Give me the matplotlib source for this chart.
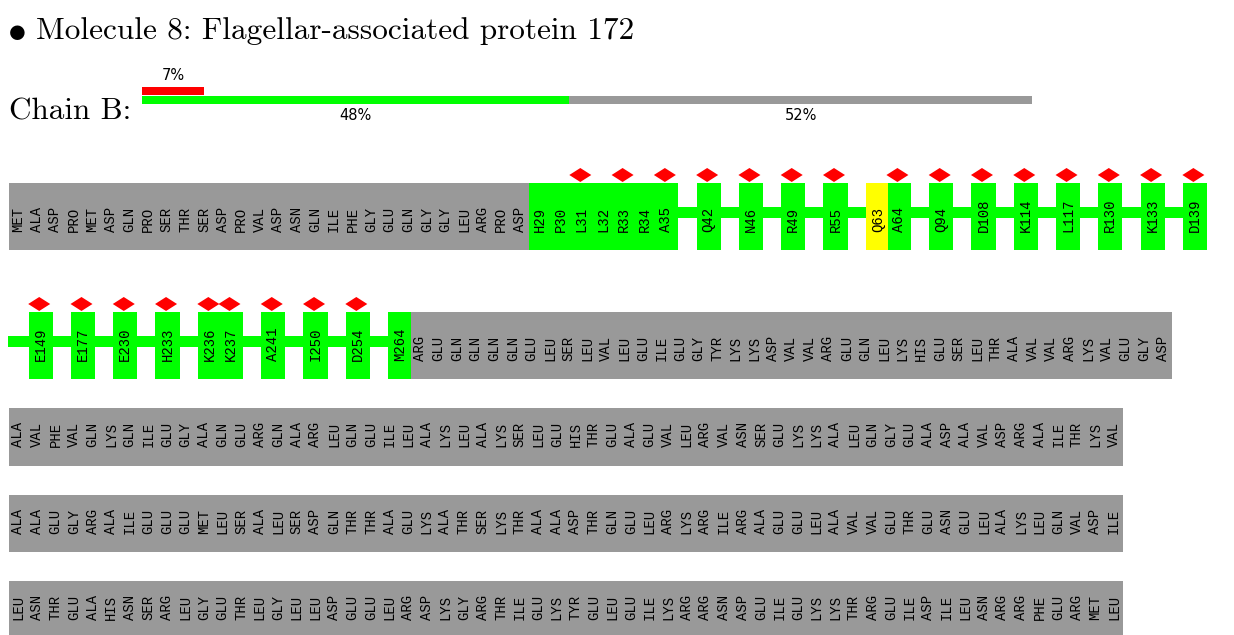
import re
import matplotlib
matplotlib.use("Agg")
import matplotlib.pyplot as plt
from matplotlib.patches import Rectangle, Polygon

# ---------------- data ----------------
title = "Molecule 8: Flagellar-associated protein 172"
chain_label = "Chain B:"

outlier_frac = 0.07
outlier_label = "7%"
quality_fracs = [0.48, 0.52]
quality_labels = ["48%", "52%"]

# unmodelled N-terminal residues 1-28
seq_head = ["MET", "ALA", "ASP", "PRO", "MET", "ASP", "GLN", "PRO", "SER", "THR",
            "SER", "ASP", "PRO", "VAL", "ASP", "ASN", "GLN", "ILE", "PHE", "GLY",
            "GLU", "GLN", "GLY", "GLY", "LEU", "ARG", "PRO", "ASP"]

# modelled residues shown individually
modelled_shown = ["H29", "P30", "L31", "L32", "R33", "R34", "A35", "Q42", "N46", "R49",
                  "R55", "Q63", "A64", "Q94", "D108", "K114", "L117", "R130", "K133",
                  "D139", "E149", "E177", "E230", "H233", "K236", "K237", "A241",
                  "I250", "D254", "M264"]

outlier_res = [31, 33, 35, 42, 46, 49, 55, 64, 94, 108, 114, 117, 130, 133, 139,
               149, 177, 230, 233, 236, 237, 241, 250, 254]
yellow_res = [63]

# unmodelled C-terminal residues 265-485
seq_tail = [
    "ARG", "GLU", "GLN", "GLN", "GLN", "GLN", "GLU", "LEU", "SER", "LEU", "VAL",
    "LEU", "GLU", "ILE", "GLU", "GLY", "TYR", "LYS", "LYS", "ASP", "VAL", "VAL",
    "ARG", "GLU", "GLN", "LEU", "LYS", "HIS", "GLU", "SER", "LEU", "THR", "ALA",
    "VAL", "VAL", "ARG", "LYS", "VAL", "GLU", "GLY", "ASP",
    "ALA", "VAL", "PHE", "VAL", "GLN", "LYS", "GLN", "ILE", "GLU", "GLY",
    "ALA", "GLN", "GLU", "ARG", "GLN", "ALA", "ARG", "LEU", "GLN", "GLU",
    "ILE", "LEU", "ALA", "LYS", "LEU", "ALA", "LYS", "SER", "LEU", "GLU",
    "HIS", "THR", "GLU", "ALA", "GLU", "VAL", "LEU", "ARG", "VAL", "ASN",
    "SER", "GLU", "LYS", "LYS", "ALA", "LEU", "GLN", "GLY", "GLU", "ALA",
    "ASP", "ALA", "VAL", "ASP", "ARG", "ALA", "ILE", "THR", "LYS", "VAL",
    "ALA", "ALA", "GLU", "GLY", "ARG", "ALA", "ILE", "GLU", "GLU", "GLU",
    "MET", "LEU", "SER", "ALA", "LEU", "SER", "ASP", "GLN", "THR", "THR",
    "ALA", "GLU", "LYS", "ALA", "THR", "SER", "LYS", "THR", "ALA", "ALA",
    "ASP", "THR", "GLN", "GLU", "LEU", "ARG", "LYS", "ARG", "ILE", "ARG",
    "ALA", "GLU", "GLU", "LEU", "ALA", "VAL", "VAL", "GLU", "THR", "GLU",
    "ASN", "GLU", "LEU", "ALA", "LYS", "LEU", "GLN", "VAL", "ASP", "ILE",
    "LEU", "ASN", "THR", "GLU", "ALA", "HIS", "ASN", "SER", "ARG", "LEU",
    "GLY", "GLU", "THR", "LEU", "GLY", "LEU", "LEU", "ASP", "GLU", "GLU",
    "LEU", "ARG", "ASP", "LYS", "GLY", "ARG", "THR", "ILE", "GLU", "LYS",
    "TYR", "GLU", "LEU", "GLU", "ILE", "LYS", "ARG", "ARG", "ASN", "ASP",
    "GLU", "ILE", "GLU", "LYS", "LYS", "THR", "ARG", "GLU", "ILE", "ASP",
    "ILE", "LEU", "ASN", "ARG", "ARG", "PHE", "GLU", "ARG", "MET", "LEU",
]

# ---------------- style ----------------
GRAY = "#999999"
GREEN = "#00ff00"
RED = "#ff0000"
YELLOW = "#ffff00"
ITEMS_PER_ROW = 60
W_GRAY = 18.57
W_COL = 21.14
X0 = 9.0
CORE_H = 57.5
EXTRA_H = 9.5
LINE_H = 11.0
PAD = 1.5

plt.rcParams["mathtext.fontset"] = "cm"
fig = plt.figure(figsize=(12.34, 6.35), dpi=100)
ax = fig.add_axes([0, 0, 1, 1])
ax.set_xlim(0, 1234)
ax.set_ylim(635, 0)
ax.axis("off")

# ---------------- header ----------------
ax.text(7, 40, r"$\bullet$", fontsize=27, ha="left", va="baseline")
ax.text(36, 39, title, family="cmr10", fontsize=22.5, ha="left", va="baseline")
ax.text(9, 120, chain_label, family="cmr10", fontsize=22.4, ha="left", va="baseline")

BAR_X0, BAR_W = 142, 890
ax.add_patch(Rectangle((BAR_X0, 86.5), BAR_W * outlier_frac, 8.5, color=RED, lw=0))
ax.text(BAR_X0 + BAR_W * outlier_frac / 2, 75.5, outlier_label, fontsize=10.5,
        family="DejaVu Sans", ha="center", va="center")
xc = BAR_X0
for frac, lab, col in zip(quality_fracs, quality_labels, [GREEN, GRAY]):
    ax.add_patch(Rectangle((xc, 95.5), BAR_W * frac, 8.5, color=col, lw=0))
    ax.text(xc + BAR_W * frac / 2, 115.5, lab, fontsize=10.5, family="DejaVu Sans",
            ha="center", va="center")
    xc += BAR_W * frac

# ---------------- build residue items ----------------
items = [("gray", n, None) for n in seq_head]
prev = None
for lab in modelled_shown:
    num = int(re.sub(r"\D", "", lab))
    if prev is not None and num != prev + 1:
        items.append(("gap", None, None))
    items.append(("res", lab, num))
    prev = num
items += [("gray", n, None) for n in seq_tail]

rows = [items[i:i + ITEMS_PER_ROW] for i in range(0, len(items), ITEMS_PER_ROW)]

bottom = None
for r, row in enumerate(rows):
    tall = any(it[0] == "res" and it[2] in outlier_res for it in row)
    if bottom is None:
        bottom = 250.0
    else:
        bottom += 86.5 + (42.5 if tall else 0)
    height = CORE_H + (EXTRA_H if tall else 0)
    top = bottom - height
    core_c = bottom - CORE_H / 2
    line_c = bottom - 37.5

    # slot positions
    xs = []
    x = X0
    for it in row:
        w = W_GRAY if it[0] == "gray" else W_COL
        xs.append((x, w))
        x += w

    # connector lines under gaps
    for (x, w), it in zip(xs, row):
        if it[0] == "gap":
            ax.add_patch(Rectangle((x - 1, line_c - LINE_H / 2), w + 2, LINE_H,
                                   color=GREEN, lw=0))

    # gray runs
    i = 0
    while i < len(row):
        if row[i][0] == "gray":
            j = i
            while j < len(row) and row[j][0] == "gray":
                j += 1
            x_start = xs[i][0]
            x_end = xs[j - 1][0] + xs[j - 1][1]
            ax.add_patch(Rectangle((x_start, top), x_end - x_start, height,
                                   color=GRAY, lw=0))
            i = j
        else:
            i += 1

    # coloured residues
    for k, ((x, w), it) in enumerate(zip(xs, row)):
        if it[0] != "res":
            continue
        left_pad = PAD if (k == 0 or row[k - 1][0] == "gap") else 0
        right_pad = PAD if (k == len(row) - 1 or row[k + 1][0] == "gap") else 0
        col = YELLOW if it[2] in yellow_res else GREEN
        ax.add_patch(Rectangle((x - left_pad, top), w + left_pad + right_pad, height,
                               color=col, lw=0))
        if it[2] in outlier_res:
            cx = x + w / 2 - 1.5
            cy = top - 8
            ax.add_patch(Polygon([(cx - 11, cy), (cx, cy - 7), (cx + 11, cy), (cx, cy + 7)],
                                 closed=True, color=RED, lw=0))

    # labels
    for (x, w), it in zip(xs, row):
        if it[1] is None:
            continue
        ax.text(x + w / 2, core_c + 10.5, it[1], rotation=90, ha="center", va="bottom",
                family="Liberation Mono", fontsize=10, color="black")

fig.savefig("out.png", dpi=100, facecolor="white")
